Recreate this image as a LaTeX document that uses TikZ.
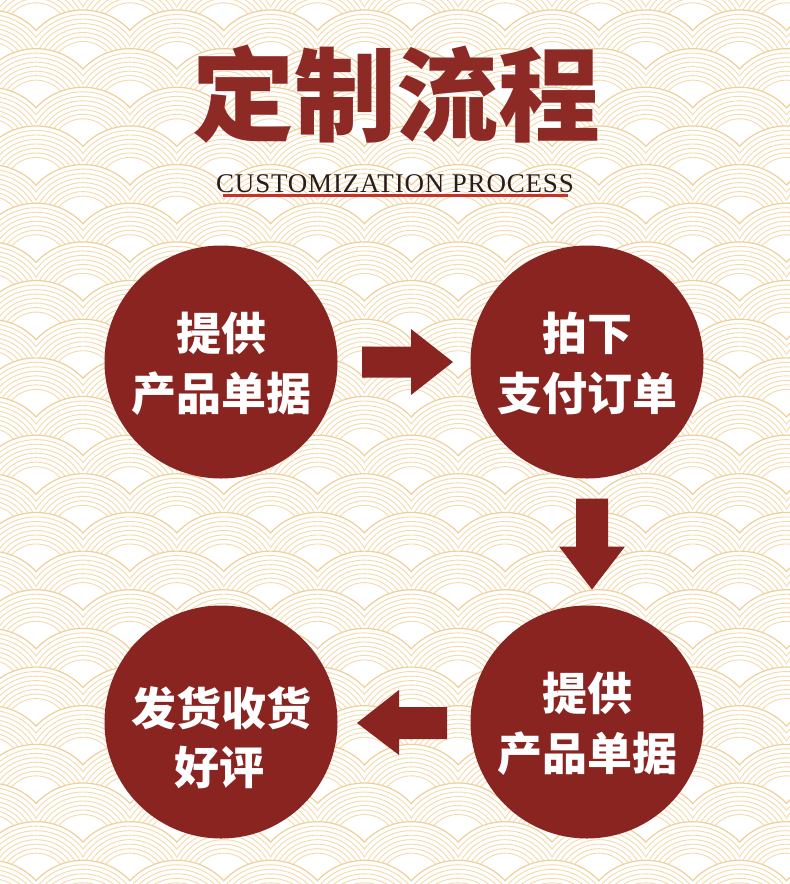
\documentclass[tikz,border=0pt]{standalone}
\usepackage{fontspec}
\setmainfont{Liberation Serif}
\newfontfamily\cjk{Noto Sans CJK SC}
\newfontfamily\latinsp{Liberation Serif}[LetterSpace=3]
\usetikzlibrary{calc}
\definecolor{bgline}{HTML}{EFCF98}
\definecolor{bgline2}{HTML}{F4D9AB}
\definecolor{deepred}{HTML}{8A2420}
\definecolor{titlered}{HTML}{8E2A25}
\definecolor{linered}{HTML}{C8302C}
\definecolor{inkc}{HTML}{2A1C1A}
\begin{document}
\begin{tikzpicture}[x=1pt,y=-1pt,
  stepcircle/.style={circle,fill=deepred,minimum size=233pt,inner sep=0pt},
  cjktext/.style={anchor=base,text=white,font=\cjk\bfseries\fontsize{45}{45}\selectfont,inner sep=0pt},
  blockarrow/.style={fill=deepred},
  ring/.style={draw=bgline2,line width=0.9pt},
  outerring/.style={draw=bgline,line width=1.2pt}]
\useasboundingbox (0,0) rectangle (790,884);
\begin{scope}
\clip (0,0) rectangle (790,884);
\fill[white] (0,0) rectangle (790,884);
\foreach \r in {-1,...,22}{
  \foreach \i in {-1,...,8}{
    \pgfmathsetmacro{\cx}{83+93.8*\i+46.9*mod(\r+2,2)}
    \pgfmathsetmacro{\cy}{74+38.65*\r}
    \begin{scope}
      \clip (\cx-47.1,\cy-66) rectangle (\cx+47.1,\cy+66);
      \fill[white] (\cx,\cy) circle[radius=64pt];
      \foreach \k in {4.5,9,...,31.5}{
        \pgfmathsetmacro{\rr}{64-\k}
        \draw[ring] (\cx,\cy) circle[radius=\rr pt];
      }
      \draw[outerring] (\cx,\cy) circle[radius=64pt];
    \end{scope}
  }
}
\end{scope}

\node[anchor=base,inner sep=0pt,text=titlered,font=\cjk\bfseries\fontsize{102}{102}\selectfont] (title) at (396,133) {定制流程};
\node[anchor=base,inner sep=0pt,text=inkc,font=\latinsp\fontsize{27}{27}\selectfont] (sub) at (395,192) {CUSTOMIZATION PROCESS};
\draw[linered,line width=3pt] ($(sub.base)+(-172.5,3.5)$) -- ($(sub.base)+(172.5,3.5)$);

\node[stepcircle] (c1) at (221,362) {};
\node[stepcircle] (c2) at (587,362) {};
\node[stepcircle] (c3) at (587,722) {};
\node[stepcircle] (c4) at (221,722) {};

\node[cjktext] (t1a) at ($(c1)+(0,-12)$) {提供};
\node[cjktext] (t1b) at ($(c1)+(0,48)$) {产品单据};
\node[cjktext] (t2a) at ($(c2)+(0,-12)$) {拍下};
\node[cjktext] (t2b) at ($(c2)+(0,48)$) {支付订单};
\node[cjktext] (t3a) at ($(c3)+(0,-12)$) {提供};
\node[cjktext] (t3b) at ($(c3)+(0,48)$) {产品单据};
\node[cjktext] (t4a) at ($(c4)+(0,3)$) {发货收货};
\node[cjktext] (t4b) at ($(c4)+(-2,62)$) {好评};

\coordinate (m12) at ($(c1.east)!0.5!(c2.west)$);
\coordinate (m23) at ($(c2.south)!0.5!(c3.north)$);
\coordinate (m34) at ($(c4.east)!0.5!(c3.west)$);

\fill[blockarrow,shift={(m12)}] (-42,-15.5) -- (7,-15.5) -- (7,-33) -- (49,0) -- (7,33) -- (7,15.5) -- (-42,15.5) -- cycle;
\fill[blockarrow,shift={(m23)}] (-11,-43.5) -- (21,-43.5) -- (21,4.5) -- (38,4.5) -- (5,47.5) -- (-28,4.5) -- (-11,4.5) -- cycle;
\fill[blockarrow,shift={(m34)}] (43,-15) -- (-5,-15) -- (-5,-32) -- (-47,1) -- (-5,33) -- (-5,17) -- (43,17) -- cycle;
\end{tikzpicture}
\end{document}
